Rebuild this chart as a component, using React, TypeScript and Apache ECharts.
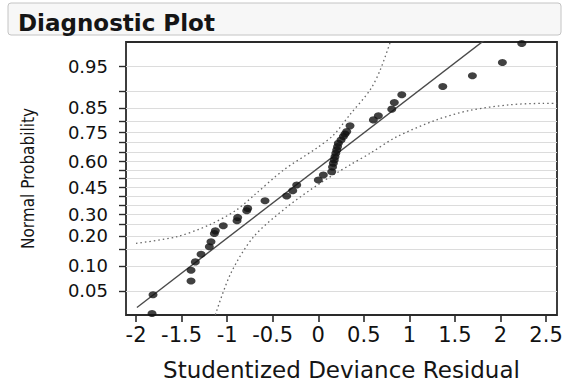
import React, { useEffect, useRef } from "react";
import * as echarts from "echarts";

// Studentized deviance residuals (x) and their plotted normal probabilities (y)
const residuals = [
  -1.824, -1.813, -1.396, -1.396, -1.349, -1.286, -1.195, -1.177, -1.14, -1.129,
  -1.042, -0.891, -0.884, -0.785, -0.774, -0.584, -0.346, -0.28, -0.236, 0.001,
  0.056, 0.148, 0.157, 0.166, 0.176, 0.184, 0.193, 0.203, 0.212, 0.221,
  0.25, 0.276, 0.294, 0.313, 0.349, 0.605, 0.66, 0.807, 0.835, 0.917,
  1.367, 1.692, 2.021, 2.234,
];
const normalProbs = [
  0.0239, 0.0443, 0.0667, 0.0895, 0.1109, 0.1337, 0.1584, 0.1767, 0.2104, 0.2215,
  0.2442, 0.2676, 0.2843, 0.3181, 0.3307, 0.3722, 0.3986, 0.429, 0.4622, 0.4912,
  0.5203, 0.5398, 0.5671, 0.5882, 0.6072, 0.6255, 0.6443, 0.6624, 0.6797, 0.6974,
  0.714, 0.7304, 0.7431, 0.754, 0.7797, 0.8048, 0.8207, 0.8452, 0.8672, 0.8899,
  0.9112, 0.9338, 0.9554, 0.9761,
];

// Fitted reference line
const fitX = [-1.99, 1.85];
const fitP = [0.0294, 0.98];

// Confidence bands
const upperBandX = [-2.0, -1.56, -1.2, -0.9, -0.7, -0.38, -0.02, 0.17, 0.35, 0.57, 0.68, 0.79];
const upperBandP = [0.1711, 0.1963, 0.2473, 0.3217, 0.4052, 0.5497, 0.6711, 0.7389, 0.8264, 0.9032, 0.9441, 0.9772];
const lowerBandX = [-1.13, -0.96, -0.71, -0.34, 0.02, 0.35, 0.57, 0.86, 1.3, 1.67, 2.1, 2.47, 2.62];
const lowerBandP = [0.0228, 0.0823, 0.1963, 0.3394, 0.4721, 0.5793, 0.6443, 0.7291, 0.8051, 0.8413, 0.8599, 0.8643, 0.8643];

// Axis ticks
const xTicks = [-2, -1.5, -1, -0.5, 0, 0.5, 1, 1.5, 2, 2.5];
const yTickProbs = [0.05, 0.1, 0.15, 0.2, 0.25, 0.3, 0.35, 0.4, 0.45, 0.5, 0.55, 0.6, 0.65, 0.7, 0.75, 0.8, 0.85, 0.9, 0.95];
const yLabelProbs = [0.05, 0.1, 0.2, 0.3, 0.45, 0.6, 0.75, 0.85, 0.95];

// Inverse standard normal CDF (Acklam) — normal probability scale
function probit(p: number): number {
  const a = [-3.969683028665376e1, 2.209460984245205e2, -2.759285104469687e2, 1.38357751867269e2, -3.066479806614716e1, 2.506628277459239];
  const b = [-5.447609879822406e1, 1.615858368580409e2, -1.556989798598866e2, 6.680131188771972e1, -1.328068155288572e1];
  const c = [-7.784894002430293e-3, -3.223964580411365e-1, -2.400758277161838, -2.549732539343734, 4.374664141464968, 2.938163982698783];
  const d = [7.784695709041462e-3, 3.224671290700398e-1, 2.445134137142996, 3.754408661907416];
  const plow = 0.02425;
  const phigh = 1 - plow;
  if (p < plow) {
    const q = Math.sqrt(-2 * Math.log(p));
    return (((((c[0] * q + c[1]) * q + c[2]) * q + c[3]) * q + c[4]) * q + c[5]) /
      ((((d[0] * q + d[1]) * q + d[2]) * q + d[3]) * q + 1);
  }
  if (p <= phigh) {
    const q = p - 0.5;
    const r = q * q;
    return ((((((a[0] * r + a[1]) * r + a[2]) * r + a[3]) * r + a[4]) * r + a[5]) * q) /
      (((((b[0] * r + b[1]) * r + b[2]) * r + b[3]) * r + b[4]) * r + 1);
  }
  const q = Math.sqrt(-2 * Math.log(1 - p));
  return -(((((c[0] * q + c[1]) * q + c[2]) * q + c[3]) * q + c[4]) * q + c[5]) /
    ((((d[0] * q + d[1]) * q + d[2]) * q + d[3]) * q + 1);
}

const pairs = (xs: number[], ps: number[]) => xs.map((x, i) => [x, probit(ps[i])]);

export default function App() {
  const ref = useRef<HTMLDivElement>(null);
  useEffect(() => {
    document.body.style.margin = "0";
    const chart = echarts.init(ref.current!, null, { renderer: "svg" });
    const font = "'DejaVu Sans', sans-serif";
    chart.setOption({
      animation: false,
      backgroundColor: "#ffffff",
      title: {
        text: "Diagnostic Plot",
        left: 13,
        top: 6,
        z: 10,
        textStyle: { fontFamily: font, fontWeight: "bold", fontSize: 23, color: "#151515" },
      },
      graphic: [
        {
          type: "rect",
          z: 0,
          shape: { x: 8, y: 3, width: 553, height: 32, r: 3 },
          style: { fill: "#f7f7f7", stroke: "#c4c4c4", lineWidth: 1 },
        },
      ],
      grid: {
        left: 126,
        right: 9,
        top: 42,
        bottom: 72,
        show: true,
        borderColor: "#2a2a2a",
        borderWidth: 1.8,
        backgroundColor: "#ffffff",
      },
      xAxis: {
        type: "value",
        min: -2.11,
        max: 2.62,
        name: "Studentized Deviance Residual",
        nameLocation: "middle",
        nameGap: 43,
        nameTextStyle: { fontFamily: font, fontSize: 23, color: "#151515" },
        axisLine: { show: false, onZero: false },
        axisTick: { show: true, length: 7, customValues: xTicks, lineStyle: { color: "#2a2a2a", width: 1.6 } },
        axisLabel: { customValues: xTicks, margin: 9, fontFamily: font, fontSize: 21, color: "#111111" },
        splitLine: { show: false },
      },
      yAxis: {
        type: "value",
        min: -2,
        max: 2,
        name: "Normal Probability",
        nameLocation: "middle",
        nameRotate: 90,
        nameGap: 90,
        nameTextStyle: { fontFamily: "'Liberation Sans Narrow', 'DejaVu Sans Condensed', sans-serif", fontSize: 17, color: "#151515" },
        axisLine: { show: false, onZero: false },
        axisTick: { show: true, length: 7, customValues: yTickProbs.map(probit), lineStyle: { color: "#2a2a2a", width: 1.4 } },
        axisLabel: {
          customValues: yLabelProbs.map(probit),
          margin: 18,
          fontFamily: font,
          fontSize: 18,
          color: "#111111",
          formatter: (v: number) => {
            const p = yLabelProbs.find((q) => Math.abs(probit(q) - v) < 1e-6);
            return p === undefined ? "" : p.toFixed(2);
          },
        },
        splitLine: { show: true, lineStyle: { color: "#dcdcdc", width: 1 } },
      },
      series: [
        {
          type: "line",
          data: pairs(upperBandX, upperBandP),
          smooth: 0.3,
          showSymbol: false,
          clip: true,
          lineStyle: { color: "#666666", width: 1.3, type: [1.5, 3] },
          z: 2,
        },
        {
          type: "line",
          data: pairs(lowerBandX, lowerBandP),
          smooth: 0.3,
          showSymbol: false,
          clip: true,
          lineStyle: { color: "#666666", width: 1.3, type: [1.5, 3] },
          z: 2,
        },
        {
          type: "line",
          data: pairs(fitX, fitP),
          showSymbol: false,
          clip: true,
          lineStyle: { color: "#4a4a4a", width: 1.4 },
          z: 3,
        },
        {
          type: "scatter",
          data: pairs(residuals, normalProbs),
          symbol: "circle",
          symbolSize: [9, 7],
          itemStyle: { color: "#111111" },
          z: 4,
        },
      ],
    });
    return () => chart.dispose();
  }, []);
  return <div ref={ref} style={{ position: "absolute", left: 0, top: 0, width: 566, height: 387 }} />;
}
